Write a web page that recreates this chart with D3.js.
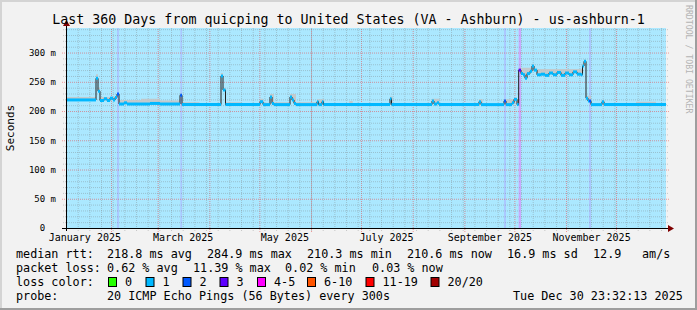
<!DOCTYPE html>
<html>
<head>
<meta charset="utf-8">
<script src="https://cdn.jsdelivr.net/npm/d3@7"></script>
<style>
  body { margin: 0; background: #ffffff; }
  text { font-family: "DejaVu Sans Mono", monospace; }
</style>
</head>
<body>
<div id="chart"></div>
<script>
// time range of the graph
var startTime = new Date(2025, 0, 4, 23, 32, 13);
var endTime = new Date(2025, 11, 30, 23, 32, 13);

// median rtt as steps: [day offset from start, ms]
var medianSteps = [
  [0, 219], [18, 256], [19.2, 234], [20.4, 218], [22.8, 221], [24.6, 218],
  [26.4, 222], [28.2, 219], [29.4, 223], [30.6, 229], [31.8, 212], [34.8, 214],
  [36.6, 212], [50.4, 213], [56.4, 212], [68.4, 227], [69.6, 211], [93, 260],
  [94.2, 236], [95.7, 211], [116.4, 216], [118.2, 211], [122.4, 224], [123.6, 213],
  [124.8, 211], [134.4, 224], [135.6, 219], [136.8, 213], [138, 211], [150.6, 216],
  [151.5, 211], [153.6, 216], [154.5, 211], [194.4, 221], [195.3, 211], [219.6, 217],
  [220.8, 212], [222.6, 214], [223.8, 211], [247.8, 216], [249, 211], [262.8, 217],
  [264, 211], [267.6, 214], [268.8, 220], [270.6, 211], [271.6, 270], [273, 264],
  [274.2, 262], [275.4, 256], [276.6, 264], [278.4, 268], [279.6, 277], [280.8, 270],
  [282.6, 262], [285, 263], [287.4, 261], [289.8, 265], [292.2, 262], [294.6, 266],
  [297, 261], [299.4, 265], [301.8, 262], [304.2, 267], [306.6, 263], [309, 262],
  [309.9, 277], [310.8, 285], [312, 222], [313.2, 217], [315, 211], [321.6, 216],
  [322.8, 211], [360, 210.6]
];

// upper edge of the smoke: [day offset, ms]
var smokeTop = [
  [0, 224], [18, 263], [19.2, 240], [20.4, 224], [31.8, 219], [45, 221], [56.4, 218],
  [68.4, 230], [69.6, 215], [80, 213], [93, 265], [94.2, 240], [95.7, 215], [105, 213],
  [116.4, 221], [118.2, 214], [122.4, 229], [124.8, 215], [134.4, 229], [138, 215],
  [150.6, 220], [155, 213], [170, 217], [172, 212], [194.4, 225], [196, 212],
  [219.6, 221], [224, 212], [247.8, 220], [250, 212], [262.8, 220], [271.6, 274],
  [279.6, 281], [281, 272], [309.9, 281], [310.8, 288], [312, 226], [315, 213],
  [321.6, 219], [323, 212], [342, 216], [354, 212], [360, 211]
];

// loss background bands: [from day, to day, loss bucket]
var lossBands = [[30.6, 31.8, 2], [68.6, 69.6, 2], [262.8, 264, 2], [271.6, 273, 3], [313.8, 315, 2]];
var baseLoss = 1;

var lossColors = ["#26ff00", "#00b8ff", "#0059ff", "#5e00ff", "#ff00ff", "#ff5500", "#ff0000", "#a10000"];
var lossLabels = ["0", "1", "2", "3", "4-5", "6-10", "11-19", "20/20"];
var lossBoxX = [108, 145.5, 182.5, 219.5, 257, 307, 365.5, 430.5];

var yTicks = [0, 50, 100, 150, 200, 250, 300];
var labelMonths = [0, 2, 4, 6, 8, 10];
var monthNames = ["January 2025", "March 2025", "May 2025", "July 2025", "September 2025", "November 2025"];

var titleText = "Last 360 Days from quicping to United States (VA - Ashburn) - us-ashburn-1";

// legend rows: [x, text]
var legendRow1 = [[16, "median rtt:"], [107, "218.8 ms avg"], [207, "284.9 ms max"], [307, "210.3 ms min"],
                  [407, "210.6 ms now"], [507, "16.9 ms sd"], [593, "12.9"], [642, "am/s"]];
var legendRow2 = [[16, "packet loss:"], [107, "0.62 % avg"], [193, "11.39 % max"], [285, "0.02 % min"], [372, "0.03 % now"]];
var legendRow4 = [[16, "probe:"], [107, "20 ICMP Echo Pings (56 Bytes) every 300s"], [513, "Tue Dec 30 23:32:13 2025"]];

var svgWidth = 697, svgHeight = 310;
var margin = { top: 28, left: 66 };
var width = 600, height = 200;

var svg = d3.select("#chart").append("svg")
  .attr("width", svgWidth)
  .attr("height", svgHeight);

// frame
svg.append("rect").attr("width", svgWidth).attr("height", svgHeight).attr("fill", "#f2f2f2");
svg.append("rect").attr("width", svgWidth).attr("height", 2).attr("fill", "#d4d4d4");
svg.append("rect").attr("width", 2).attr("height", svgHeight).attr("fill", "#d4d4d4");
svg.append("rect").attr("y", svgHeight - 2).attr("width", svgWidth).attr("height", 2).attr("fill", "#9e9e9e");
svg.append("rect").attr("x", svgWidth - 2).attr("width", 2).attr("height", svgHeight).attr("fill", "#9e9e9e");

var x = d3.scaleTime().domain([startTime, endTime]).range([margin.left, margin.left + width]);
var y = d3.scaleLinear().domain([0, 342]).range([margin.top + height, margin.top]);
var dayDate = function(d) { return new Date(+startTime + d * 864e5); };
var bgColor = function(i) { return d3.interpolateRgb("#ffffff", lossColors[i])(0.33); };

// loss background
svg.append("rect")
  .attr("x", margin.left).attr("y", margin.top)
  .attr("width", width).attr("height", height)
  .attr("fill", bgColor(baseLoss));

svg.selectAll(".band")
  .data(lossBands)
  .enter()
  .append("rect")
  .attr("x", d => x(dayDate(d[0])))
  .attr("width", d => x(dayDate(d[1])) - x(dayDate(d[0])))
  .attr("y", margin.top)
  .attr("height", height)
  .attr("fill", d => bgColor(d[2]));

// grid
function styleGrid(g, color) {
  g.select(".domain").remove();
  g.selectAll("line").attr("stroke", color).attr("stroke-dasharray", "1,1");
}
var minorGridColor = "rgba(120,120,120,0.35)";
var majorGridColor = "rgba(240,60,60,0.5)";

svg.append("g")
  .attr("transform", `translate(0, ${margin.top + height + 3})`)
  .call(d3.axisBottom(x).tickValues(d3.timeSunday.range(startTime, endTime)).tickSize(-(height + 3)).tickFormat(""))
  .call(g => styleGrid(g, minorGridColor));

svg.append("g")
  .attr("transform", `translate(0, ${margin.top + height + 4})`)
  .call(d3.axisBottom(x).tickValues(d3.timeMonth.range(startTime, endTime)).tickSize(-(height + 4)).tickFormat(""))
  .call(g => styleGrid(g, majorGridColor));

svg.append("g")
  .attr("transform", `translate(${margin.left - 3}, 0)`)
  .call(d3.axisLeft(y).tickValues(d3.range(10, 342, 10).filter(v => v % 50 != 0)).tickSize(-(width + 6)).tickFormat(""))
  .call(g => styleGrid(g, minorGridColor));

svg.append("g")
  .attr("transform", `translate(${margin.left - 4}, 0)`)
  .call(d3.axisLeft(y).tickValues(d3.range(50, 342, 50)).tickSize(-(width + 8)).tickFormat(""))
  .call(g => styleGrid(g, majorGridColor));

// step lookup
function stepValue(arr, day) {
  var i = d3.bisector(d => d[0]).right(arr, day) - 1;
  return arr[Math.max(0, i)][1];
}

// smoke
var smokeDays = Array.from(new Set(medianSteps.map(d => d[0]).concat(smokeTop.map(d => d[0])))).sort((a, b) => a - b);
var smokeArea = d3.area()
  .curve(d3.curveStepAfter)
  .x(d => x(dayDate(d)))
  .y0(d => y(stepValue(medianSteps, d)))
  .y1(d => y(Math.max(stepValue(medianSteps, d), stepValue(smokeTop, d))));

svg.append("path")
  .datum(smokeDays)
  .attr("d", smokeArea)
  .attr("fill", "#c4c4c4")
  .attr("opacity", 0.85);

// median: thin dark line then loss coloured steps
var medianLine = d3.line()
  .curve(d3.curveStepAfter)
  .x(d => x(dayDate(d[0])))
  .y(d => y(d[1]));

svg.append("path")
  .datum(medianSteps)
  .attr("d", medianLine)
  .attr("fill", "none")
  .attr("stroke", "#202020")
  .attr("stroke-width", 1);

function lossAt(day) {
  var b = lossBands.find(d => day >= d[0] && day < d[1]);
  return b ? b[2] : baseLoss;
}

// split the steps at band edges so each piece gets one loss colour
var segDays = Array.from(new Set(medianSteps.map(d => d[0])
  .concat(lossBands.map(d => d[0]), lossBands.map(d => d[1])))).sort((a, b) => a - b);

svg.selectAll(".seg")
  .data(segDays.slice(0, -1).map((d, i) => [d, segDays[i + 1]]))
  .enter()
  .append("line")
  .attr("x1", d => x(dayDate(d[0])))
  .attr("x2", d => x(dayDate(d[1])))
  .attr("y1", d => y(stepValue(medianSteps, d[0])))
  .attr("y2", d => y(stepValue(medianSteps, d[0])))
  .attr("stroke", d => lossColors[lossAt(d[0])])
  .attr("stroke-width", 3);

// axis lines with arrows
var axisBottomY = margin.top + height + 0.5;
svg.append("line")
  .attr("x1", margin.left - 4).attr("x2", margin.left + width + 3)
  .attr("y1", axisBottomY).attr("y2", axisBottomY)
  .attr("stroke", "#000");
svg.append("line")
  .attr("x1", margin.left + 0.5).attr("x2", margin.left + 0.5)
  .attr("y1", margin.top + height + 3).attr("y2", margin.top - 3)
  .attr("stroke", "#000");
svg.append("path")
  .attr("d", `M${margin.left + width + 2},${axisBottomY - 3.5}L${margin.left + width + 8},${axisBottomY}L${margin.left + width + 2},${axisBottomY + 3.5}Z`)
  .attr("fill", "#7f0000");
svg.append("path")
  .attr("d", `M${margin.left - 3},${margin.top - 2}L${margin.left + 0.5},${margin.top - 8}L${margin.left + 4},${margin.top - 2}Z`)
  .attr("fill", "#7f0000");

// y labels
var yAxis = svg.append("g")
  .attr("transform", `translate(${margin.left}, 0)`)
  .call(d3.axisLeft(y).tickValues(yTicks).tickSize(0).tickPadding(10)
    .tickFormat(v => v ? v + " m" : "0\u00a0\u00a0"));
yAxis.select(".domain").remove();
yAxis.selectAll("text")
  .style("font-family", "DejaVu Sans Mono")
  .style("font-size", "9px")
  .attr("fill", "#000");

// x labels, centred on the middle of the month
var xAxis = svg.append("g")
  .attr("transform", `translate(0, ${margin.top + height})`)
  .call(d3.axisBottom(x)
    .tickValues(labelMonths.map(m => d3.timeDay.offset(new Date(2025, m, 1), 15)))
    .tickSize(0).tickPadding(6)
    .tickFormat((d, i) => monthNames[i]));
xAxis.select(".domain").remove();
xAxis.selectAll("text")
  .style("font-family", "DejaVu Sans Mono")
  .style("font-size", "10px")
  .attr("fill", "#000");

// title
svg.append("text")
  .attr("x", svgWidth / 2)
  .attr("y", 24)
  .attr("text-anchor", "middle")
  .style("font-size", "13.3px")
  .text(titleText);

// y axis title
svg.append("text")
  .attr("transform", `translate(14, ${margin.top + height / 2}) rotate(-90)`)
  .attr("text-anchor", "middle")
  .style("font-size", "11px")
  .text("Seconds");

// watermark
svg.append("text")
  .attr("transform", "translate(686, 5) rotate(90)")
  .style("font-size", "8.2px")
  .attr("fill", "#b4b4b4")
  .text("RRDTOOL / TOBI OETIKER");

// legend
var legendFont = "11.75px";
function legendRow(row, baseY) {
  svg.selectAll(null)
    .data(row)
    .enter()
    .append("text")
    .attr("x", d => d[0])
    .attr("y", baseY)
    .style("font-size", legendFont)
    .text(d => d[1]);
}
legendRow(legendRow1, 258);
legendRow(legendRow2, 272);
legendRow([[16, "loss color:"]], 286);
legendRow(legendRow4, 300);

svg.selectAll(".lossBox")
  .data(lossColors)
  .enter()
  .append("rect")
  .attr("x", (d, i) => lossBoxX[i] + 0.5)
  .attr("y", 277.5)
  .attr("width", 8)
  .attr("height", 9)
  .attr("fill", d => d)
  .attr("stroke", "#000");

svg.selectAll(".lossLabel")
  .data(lossLabels)
  .enter()
  .append("text")
  .attr("x", (d, i) => lossBoxX[i] + 17)
  .attr("y", 286)
  .style("font-size", legendFont)
  .text(d => d);
</script>
</body>
</html>
